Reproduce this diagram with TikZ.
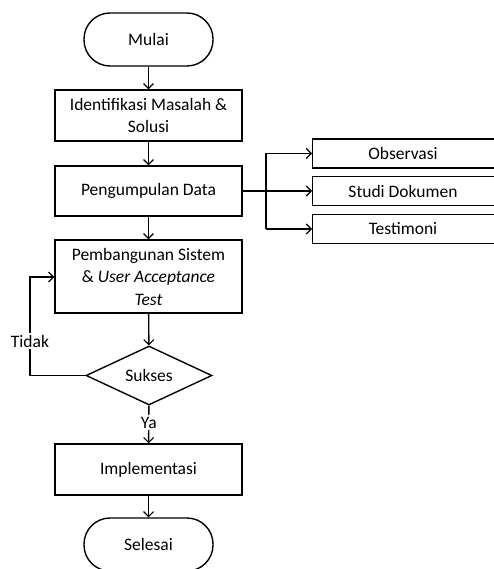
\documentclass[tikz,border=0pt]{standalone}
\usepackage{fontspec}
\setmainfont{Carlito}
\usetikzlibrary{arrows.meta,shapes.geometric}
\begin{document}
\begin{tikzpicture}[x=1pt,y=1pt,
  line width=1.4pt,
  every node/.style={font=\fontsize{17.5}{22.5}\selectfont, inner sep=0pt, align=center},
  proc/.style={draw, minimum width=187pt},
  term/.style={draw, rounded corners=26pt, minimum width=129pt, minimum height=53pt},
  side/.style={draw, minimum width=190pt, minimum height=29pt},
  arr/.style={-{Straight Barb[length=5pt,width=10pt,line width=1.1pt]}},
  lbl/.style={fill=white, inner sep=1.5pt}
]
\useasboundingbox (0,0) rectangle (494,-569);
\clip (0,0) rectangle (494,-569);
\node[term] (mulai) at (148.5,-39.5) {Mulai};
\node[proc, minimum height=51pt] (ident) at (148.5,-115.5) {Identifikasi Masalah \&\\Solusi};
\node[proc, minimum height=50pt] (peng) at (148.5,-191) {Pengumpulan Data};
\node[proc, minimum height=73pt] (pemb) at (148.5,-276.5) {Pembangunan Sistem\\\& \textit{User Acceptance}\\\textit{Test}};
\node[draw, diamond, aspect=2.13, minimum width=126pt, minimum height=59pt, inner sep=0pt] (sukses) at (149,-375.5) {Sukses};
\node[proc, minimum height=51pt] (impl) at (148.5,-469.5) {Implementasi};
\node[term] (selesai) at (148.5,-544.5) {Selesai};

\node[side, anchor=west] (obs) at (312,-153.5) {};
\node[side, anchor=west] (studi) at (312,-191) {};
\node[side, anchor=west] (testi) at (312,-229) {};
\node at (403,-153.5) {Observasi};
\node at (403,-191) {Studi Dokumen};
\node at (403,-229) {Testimoni};

\coordinate (j) at (266,-191);
\coordinate (jt) at (266,-153.5);
\coordinate (jb) at (266,-229);
\coordinate (lb) at (30,-375.5);
\coordinate (lt) at (30,-277);

\draw[arr] (mulai) -- (ident);
\draw[arr] (ident) -- (peng);
\draw[arr] (peng) -- (pemb);
\draw[arr] (pemb) -- (sukses);
\draw[arr] (sukses) -- node[lbl, pos=0.45] {Ya} (impl);
\draw[arr] (impl) -- (selesai);

\draw[line width=2.6pt] (peng.east) -- (j);
\draw (jt) -- (jb);
\draw[arr] (jt) -- (obs.west);
\draw[arr] (j) -- (studi.west);
\draw[arr] (jb) -- (testi.west);

\draw[arr] (sukses.west) -- (lb) -- node[lbl, pos=0.35] {Tidak} (lt) -- (lt -| pemb.west);
\end{tikzpicture}
\end{document}
